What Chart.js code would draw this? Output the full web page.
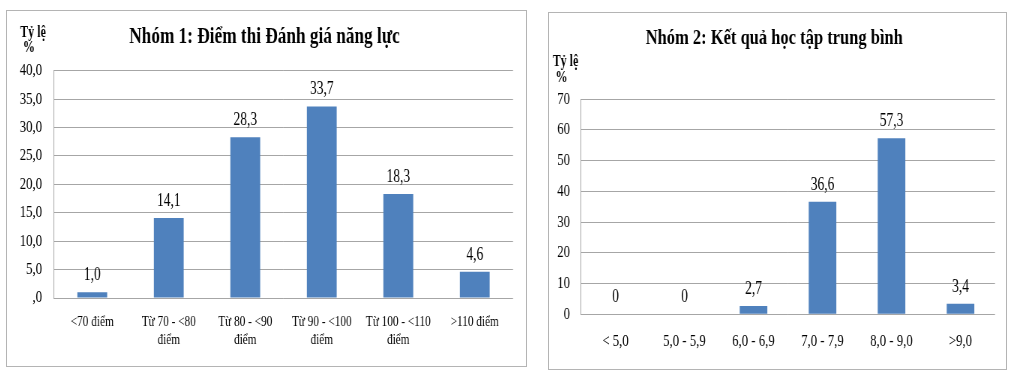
<!DOCTYPE html>
<html><head><meta charset="utf-8">
<script src="https://cdn.jsdelivr.net/npm/chart.js@4.4.1/dist/chart.umd.min.js"></script>
<style>
html,body{margin:0;padding:0;background:#fff;width:1024px;height:378px;overflow:hidden;}
.box{position:absolute;border:1px solid #b4b4b4;background:#fff;overflow:hidden;}
.inner{position:absolute;left:0;top:0;transform:scaleX(0.75);transform-origin:0 0;}
canvas{display:block;}
</style></head><body>
<div class="box" style="left:6px;top:10px;width:519px;height:355px;">
  <div class="inner" style="width:692px;height:355px;"><canvas id="c1"></canvas></div>
</div>
<div class="box" style="left:548px;top:12px;width:457px;height:356px;">
  <div class="inner" style="width:609.3px;height:356px;"><canvas id="c2"></canvas></div>
</div>
<script>
const title1 = 'Nhóm 1: Điểm thi Đánh giá năng lực';
const categories1 = [['<70 điểm'], ['Từ 70 - <80', 'điểm'], ['Từ 80 - <90', 'điểm'], ['Từ 90 - <100', 'điểm'], ['Từ 100 - <110', 'điểm'], ['>110 điểm']];
const values1 = [1.0, 14.1, 28.3, 33.7, 18.3, 4.6];
const yTicks1 = [0, 5, 10, 15, 20, 25, 30, 35, 40];

const title2 = 'Nhóm 2: Kết quả học tập trung bình';
const categories2 = ['< 5,0', '5,0 - 5,9', '6,0 - 6,9', '7,0 - 7,9', '8,0 - 9,0', '>9,0'];
const values2 = [0, 0, 2.7, 36.6, 57.3, 3.4];
const yTicks2 = [0, 10, 20, 30, 40, 50, 60, 70];

const axisTitle = ['Tỷ lệ', '%'];

const SERIF = '"Liberation Serif", "Times New Roman", serif';
const BAR = '#4f81bd';
const GRID = '#a6a6a6';

function comma(v){ return v.toFixed(1).replace('.', ','); }

function labelPlugin(fmt, pos){
  return {
    id: 'extras',
    afterDatasetsDraw(chart){
      const ctx = chart.ctx;
      const meta = chart.getDatasetMeta(0);
      ctx.save();
      ctx.fillStyle = '#000';
      ctx.font = '18px ' + SERIF;
      ctx.textAlign = 'center';
      ctx.textBaseline = 'middle';
      meta.data.forEach((bar, i) => {
        const v = chart.data.datasets[0].data[i];
        ctx.fillText(fmt(v), bar.x, bar.y - 17);
      });
      ctx.font = 'bold 16px ' + SERIF;
      ctx.fillText(axisTitle[0], pos[0], pos[1]);
      ctx.fillText(axisTitle[1], pos[2], pos[3]);
      ctx.restore();
    }
  };
}

function makeChart(id, cats, vals, ticks, max, step, titleText, opt){
  return new Chart(document.getElementById(id), {
    type: 'bar',
    data: { labels: cats, datasets: [{ data: vals, backgroundColor: BAR, borderWidth: 0, barPercentage: opt.barPct, categoryPercentage: 1 }] },
    options: {
      responsive: true, maintainAspectRatio: false, animation: false,
      devicePixelRatio: 1,
      layout: { padding: { left: opt.padLeft, right: opt.padRight, top: 0, bottom: 0 } },
      plugins: {
        legend: { display: false },
        tooltip: { enabled: false },
        title: { display: true, text: titleText, color: '#000',
          font: { family: SERIF, size: opt.titleFont, weight: 'bold', lineHeight: 1.2 },
          padding: { top: opt.titleTop, bottom: opt.titleBottom } }
      },
      scales: {
        x: {
          grid: { display: false, drawTicks: false },
          border: { display: false },
          ticks: { color: '#000', font: { family: SERIF, size: opt.xFont, lineHeight: 1.2 }, padding: opt.xPad, maxRotation: 0, autoSkip: false },
          afterFit(a){ a.height = opt.xHeight; }
        },
        y: {
          min: 0, max: max,
          grid: { color: GRID, lineWidth: 1, drawTicks: false },
          border: { display: true, color: GRID, width: 1 },
          ticks: { stepSize: step, color: '#000', font: { family: SERIF, size: 17 }, padding: opt.yPad,
            callback: (v) => ticks.includes(v) ? opt.tickFmt(v) : '' },
          afterFit(a){ a.width = opt.yWidth; }
        }
      }
    },
    plugins: [labelPlugin(opt.labelFmt, opt.axisPos)]
  });
}

makeChart('c1', categories1, values1, yTicks1, 40, 5, title1, {
  barPct: 0.39, padLeft: 12, padRight: 17.3, titleFont: 23, titleTop: 12.2, titleBottom: 19.9,
  xFont: 15, xPad: 15, xHeight: 68, yPad: 16, yWidth: 50.7,
  tickFmt: (v) => v === 0 ? ',0' : comma(v),
  labelFmt: (v) => comma(v),
  axisPos: [34.7, 22, 29.3, 37]
});

makeChart('c2', categories2, values2, yTicks2, 70, 10, title2, {
  barPct: 0.40, padLeft: 6, padRight: 14.6, titleFont: 22, titleTop: 11.8, titleBottom: 48,
  xFont: 17, xPad: 17.5, xHeight: 54.7, yPad: 14.7, yWidth: 36.7,
  tickFmt: (v) => String(v),
  labelFmt: (v) => v === 0 ? '0' : comma(v),
  axisPos: [22, 49, 16.7, 64.5]
});
</script>
</body></html>
